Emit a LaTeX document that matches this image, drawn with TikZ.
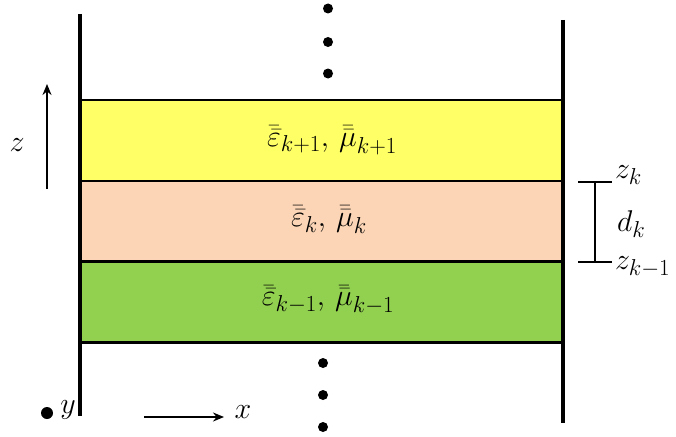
\RequirePackage{fix-cm}
\documentclass[tikz,border=0pt]{standalone}
\usetikzlibrary{arrows.meta}
\DeclareMathSizes{30}{30}{23}{17}
\definecolor{layerY}{HTML}{FFFF66}
\definecolor{layerP}{HTML}{FBD5B5}
\definecolor{layerG}{HTML}{92D050}
\begin{document}
\begin{tikzpicture}[x=1pt,y=-1pt,
  layer/.style={draw=black,line width=2.5pt,minimum width=483pt,minimum height=81pt,inner sep=0pt,outer sep=0pt},
  wall/.style={line width=3.5pt},
  dotmark/.style={circle,fill=black,inner sep=0pt,minimum size=10pt},
  lbl/.style={font=\fontsize{30}{34}\selectfont,inner sep=0pt},
  axis/.style={line width=2pt,-{Stealth[length=11pt,width=9pt]}},
  bracket/.style={line width=2pt}]
\useasboundingbox (0,0) rectangle (676,436);
% layers
\node[layer,fill=layerY] (L1) at (321.5,140.5) {};
\node[layer,fill=layerP] (L2) at (321.5,221.5) {};
\node[layer,fill=layerG] (L3) at (321.5,302) {};
\node[lbl] (t1) at (332,140) {$\bar{\bar{\varepsilon}}_{k+1},\,\bar{\bar{\mu}}_{k+1}$};
\node[lbl] (t2) at (329,220) {$\bar{\bar{\varepsilon}}_{k},\,\bar{\bar{\mu}}_{k}$};
\node[lbl] (t3) at (328,300) {$\bar{\bar{\varepsilon}}_{k-1},\,\bar{\bar{\mu}}_{k-1}$};
% walls
\coordinate (wlt) at (80,14);
\coordinate (wlb) at (80,416);
\coordinate (wrt) at (563,20);
\coordinate (wrb) at (563,423);
\draw[wall] (wlt) -- (wlb);
\draw[wall] (wrt) -- (wrb);
% dots
\node[dotmark] (d1) at (328,8.5) {};
\node[dotmark] (d2) at (328,42) {};
\node[dotmark] (d3) at (328,73.5) {};
\node[dotmark] (d4) at (323,363) {};
\node[dotmark] (d5) at (323,395) {};
\node[dotmark] (d6) at (323,427) {};
% z axis
\coordinate (za) at (47,189);
\coordinate (zb) at (47,84);
\draw[axis] (za) -- (zb);
\node[lbl] (zl) at (17,145) {$z$};
% x axis
\coordinate (xa) at (144,417);
\coordinate (xb) at (224,417);
\draw[axis] (xa) -- (xb);
\node[lbl] (xl) at (243,412) {$x$};
% y
\node[dotmark,minimum size=12pt] (yd) at (47,413) {};
\node[lbl] (yl) at (68,410) {$y$};
% bracket
\coordinate (bt) at (595,182);
\coordinate (bb) at (595,262);
\coordinate (btl) at (578,182);
\coordinate (btr) at (612,182);
\coordinate (bbl) at (578,262);
\coordinate (bbr) at (612,262);
\draw[bracket] (bt) -- (bb);
\draw[bracket] (btl) -- (btr);
\draw[bracket] (bbl) -- (bbr);
\node[lbl,anchor=west] (zk) at (615,175) {$z_k$};
\node[lbl,anchor=west] (dk) at (617,224) {$d_k$};
\node[lbl,anchor=west] (zk1) at (615,267) {$z_{k-1}$};
\end{tikzpicture}
\end{document}
